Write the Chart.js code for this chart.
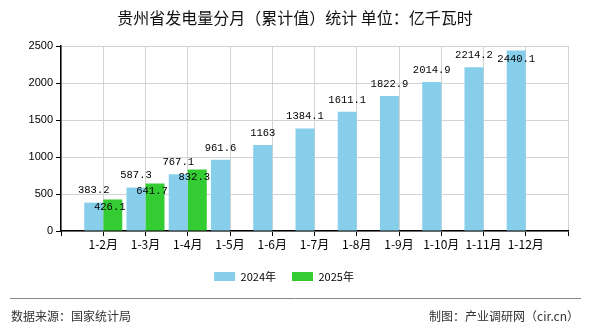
<!DOCTYPE html>
<html>
<head>
<meta charset="utf-8">
<title>贵州省发电量分月（累计值）统计</title>
<script src="https://cdn.jsdelivr.net/npm/chart.js"></script>
<style>
	body { margin: 0; background: #fff; }
	#wrap { width: 590px; height: 330px; }
</style>
</head>
<body>
<div id="wrap"><canvas id="myChart" width="590" height="330"></canvas></div>
<script>
// data
var months = ['1-2月', '1-3月', '1-4月', '1-5月', '1-6月', '1-7月', '1-8月', '1-9月', '1-10月', '1-11月', '1-12月'];
var values2024 = [383.2, 587.3, 767.1, 961.6, 1163, 1384.1, 1611.1, 1822.9, 2014.9, 2214.2, 2440.1];
var values2025 = [426.1, 641.7, 832.3, null, null, null, null, null, null, null, null];
var seriesNames = ['2024年', '2025年'];
var yTicks = [0, 500, 1000, 1500, 2000, 2500];

var cjk = "SimSun, 'Noto Sans CJK SC', sans-serif";
var mono = "'Liberation Mono', 'DejaVu Sans Mono', monospace";
var sans = "'Liberation Sans', Arial, sans-serif";

// the axis has an empty slot at each end, so the first and last month sit one step in
function pad(arr) { return [null].concat(arr).concat([null]); }
var xLabels = [''].concat(months).concat(['']);

// title, footer and the value labels
var extras = {
	id: 'extras',
	afterDraw: function(chart) {
		var ctx = chart.ctx;
		var top = chart.chartArea.top;
		ctx.save();
		ctx.fillStyle = '#111';
		ctx.font = '16px ' + cjk;
		ctx.textAlign = 'center';
		ctx.textBaseline = 'middle';
		ctx.fillText('贵州省发电量分月（累计值）统计 单位：亿千瓦时', 295, 18);

		ctx.strokeStyle = '#888';
		ctx.lineWidth = 1;
		ctx.beginPath();
		ctx.moveTo(10, 298.5);
		ctx.lineTo(581, 298.5);
		ctx.stroke();

		ctx.fillStyle = '#333';
		ctx.font = '12px ' + cjk;
		ctx.textAlign = 'left';
		ctx.fillText('数据来源：国家统计局', 11, 316);
		ctx.textAlign = 'right';
		ctx.fillText('制图：产业调研网（cir.cn）', 579, 316);

		ctx.fillStyle = '#000';
		ctx.font = '10.5px ' + mono;
		ctx.textAlign = 'center';
		chart.data.datasets.forEach(function(ds, i) {
			var meta = chart.getDatasetMeta(i);
			meta.data.forEach(function(bar, j) {
				var v = ds.data[j];
				if (v == null) return;
				var txt = String(v);
				if (i == 0) {
					var y = bar.y - 12;
					if (y < top + 6) y = top + 13; // pushed inside when it would stick out the top
					ctx.fillText(txt, bar.x, y);
				} else {
					ctx.fillText(txt, bar.x - 3, bar.y + 8);
				}
			});
		});
		ctx.restore();
	}
};

var chartConfig = {
	type: 'bar',
	data: {
		labels: xLabels,
		datasets: [{
			label: seriesNames[0],
			data: pad(values2024),
			backgroundColor: '#87CEEB',
			barPercentage: 1,
			categoryPercentage: 0.9
		}, {
			label: seriesNames[1],
			data: pad(values2025),
			backgroundColor: '#33CC33',
			barPercentage: 1,
			categoryPercentage: 0.9
		}]
	},
	options: {
		responsive: false,
		animation: false,
		layout: { padding: { left: 0, right: 22, top: 46, bottom: 38 } },
		plugins: {
			title: { display: false },
			tooltip: { enabled: false },
			legend: {
				position: 'bottom',
				labels: {
					boxWidth: 21,
					boxHeight: 9,
					padding: 16,
					color: '#000',
					font: { size: 11, family: cjk }
				}
			}
		},
		scales: {
			x: {
				offset: false,
				grid: { offset: false, color: '#d3d3d3', tickColor: '#000', tickLength: 5 },
				border: { color: '#000', width: 1.5 },
				ticks: { color: '#000', padding: 1, font: { size: 12, family: cjk }, maxRotation: 0, autoSkip: false },
				afterFit: function(scale) { scale.height = 24; }
			},
			y: {
				min: 0,
				max: 2500,
				afterBuildTicks: function(scale) {
					scale.ticks = yTicks.map(function(v) { return { value: v }; });
				},
				grid: { color: '#d3d3d3', tickColor: '#000', tickLength: 5 },
				border: { color: '#000', width: 1.5 },
				ticks: {
					color: '#000',
					font: { size: 11, family: sans },
					callback: function(v) { return String(v); }
				},
				afterFit: function(scale) { scale.width = 61; }
			}
		}
	},
	plugins: [extras]
};

var myChart = new Chart(document.getElementById('myChart'), chartConfig);
</script>
</body>
</html>
